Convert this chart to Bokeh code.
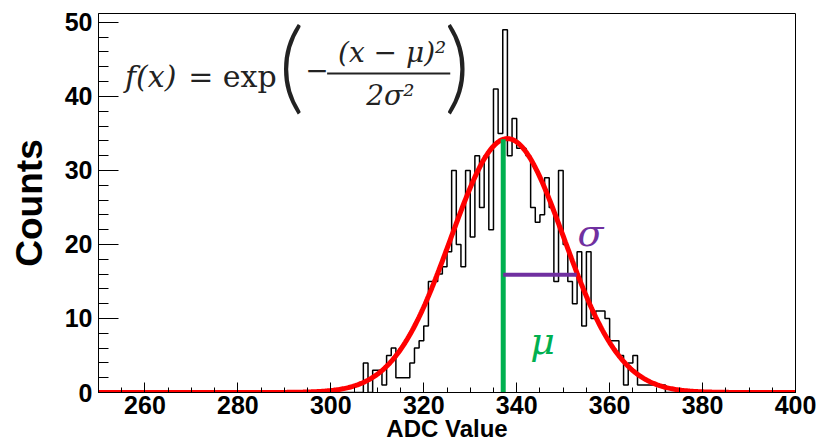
import numpy as np
from bokeh.plotting import figure
from bokeh.models import Range1d, FixedTicker, Label
from bokeh.embed import file_html
from bokeh.resources import INLINE

# ---------------- data ----------------
bin_lower_edges = list(range(305, 373))          # ADC bins of width 1
bin_counts = [0, 0, 4, 0, 3, 3, 1, 5, 6, 2,
              2, 2, 4, 6, 7, 9, 15, 15, 16, 17,
              19, 30, 20, 17, 30, 21, 32, 25, 32, 22,
              41, 35, 49, 32, 37, 33, 33, 32, 25, 23,
              24, 29, 25, 15, 30, 20, 15, 12, 19, 9,
              19, 10, 11, 11, 10, 7, 7, 5, 1, 4,
              5, 1, 1, 1, 1, 1, 1, 0]
bin_width = 1

x_major_ticks = [260, 280, 300, 320, 340, 360, 380, 400]
x_minor_ticks = list(range(250, 401, 5))
y_major_ticks = [0, 10, 20, 30, 40, 50]
y_minor_ticks = list(range(0, 52, 2))

# Gaussian fit parameters
fit_amplitude = 34.3
fit_mean = 338.0
fit_sigma = 12.2

# annotation markers
mu_value = 337.1
sigma_right = 352.9
sigma_level = 15.9

x_lo, x_hi = 250, 400
y_lo, y_hi = 0, 51.2

# ---------------- figure ----------------
p = figure(width=819, height=448,
           x_range=Range1d(x_lo, x_hi), y_range=Range1d(y_lo, y_hi),
           output_backend="svg", toolbar_location=None,
           min_border_left=98, min_border_right=24,
           min_border_top=13, min_border_bottom=56)
p.xgrid.visible = False
p.ygrid.visible = False
p.outline_line_color = "black"
p.outline_line_width = 1
p.outline_line_alpha = 1
p.background_fill_color = "white"
p.border_fill_color = "white"

tick_font = "Liberation Sans"
for ax in (p.xaxis[0], p.yaxis[0]):
    ax.axis_line_color = "black"
    ax.axis_line_width = 1
    ax.major_tick_line_color = "black"
    ax.minor_tick_line_color = "black"
    ax.major_tick_out = 0
    ax.minor_tick_out = 0
    ax.major_label_text_font = tick_font
    ax.major_label_text_font_style = "bold"
    ax.major_label_text_font_size = "25px"
    ax.major_label_text_color = "black"
    ax.axis_label_text_font = tick_font
    ax.axis_label_text_font_style = "bold"
    ax.axis_label_text_color = "black"

p.xaxis.ticker = FixedTicker(ticks=x_major_ticks, minor_ticks=x_minor_ticks)
p.xaxis.major_tick_in = 10
p.xaxis.minor_tick_in = 5
p.xaxis.major_label_standoff = 3
p.xaxis.axis_label = "ADC Value"
p.xaxis.axis_label_text_font_size = "24px"
p.xaxis.axis_label_standoff = -2

p.yaxis.ticker = FixedTicker(ticks=y_major_ticks, minor_ticks=y_minor_ticks)
p.yaxis.major_tick_in = 20
p.yaxis.minor_tick_in = 10
p.yaxis.major_label_standoff = 6
p.yaxis.axis_label = "Counts"
p.yaxis.axis_label_text_font_size = "37px"
p.yaxis.axis_label_standoff = 12

# ---------------- histogram ----------------
step_x = [x_lo] + bin_lower_edges + [bin_lower_edges[-1] + bin_width, x_hi]
step_y = [0] + bin_counts + [0, 0]
p.step(x=step_x, y=step_y, mode="after", line_color="black", line_width=1.5)

# ---------------- Gaussian fit ----------------
fx = np.linspace(x_lo, x_hi, 601)
fy = fit_amplitude * np.exp(-(fx - fit_mean) ** 2 / (2 * fit_sigma ** 2))
p.line(fx, fy, line_color="#ff0000", line_width=5)

mu_top = fit_amplitude * np.exp(-(mu_value - fit_mean) ** 2 / (2 * fit_sigma ** 2))
p.segment(x0=[mu_value], y0=[0], x1=[mu_value], y1=[mu_top],
          line_color="#00b050", line_width=5)
p.segment(x0=[mu_value], y0=[sigma_level], x1=[sigma_right], y1=[sigma_level],
          line_color="#7030a0", line_width=4)

p.add_layout(Label(x=355.9, y=21.5, text="σ", text_align="center",
                   text_baseline="middle", text_font="DejaVu Serif",
                   text_font_style="italic", text_font_size="38px",
                   text_color="#7030a0"))
p.add_layout(Label(x=345.6, y=6.9, text="μ", text_align="center",
                   text_baseline="middle", text_font="DejaVu Serif",
                   text_font_style="italic", text_font_size="38px",
                   text_color="#00b050"))

# ---------------- formula ----------------
ff = "DejaVu Serif"
fcol = "#222222"
paren_font = "Lato Light, Liberation Serif"
p.add_layout(Label(x=255.7, y=42.7, text="f(x)", text_align="left",
                   text_baseline="alphabetic", text_font=ff,
                   text_font_style="italic", text_font_size="30px", text_color=fcol))
p.add_layout(Label(x=269.3, y=42.7, text="= exp", text_align="left",
                   text_baseline="alphabetic", text_font=ff,
                   text_font_size="30px", text_color=fcol))
p.add_layout(Label(x=291.5, y=44.6, text="(", text_align="center",
                   text_baseline="middle", text_font=paren_font,
                   text_font_size="100px", text_color=fcol))
p.add_layout(Label(x=327.2, y=44.6, text=")", text_align="center",
                   text_baseline="middle", text_font=paren_font,
                   text_font_size="100px", text_color=fcol))
p.add_layout(Label(x=294.5, y=43.6, text="−", text_align="left",
                   text_baseline="middle", text_font=ff,
                   text_font_size="28px", text_color=fcol))
p.add_layout(Label(x=313.2, y=45.9, text="(x − μ)²", text_align="center",
                   text_baseline="alphabetic", text_font=ff,
                   text_font_style="italic", text_font_size="28px", text_color=fcol))
p.add_layout(Label(x=312.8, y=40.1, text="2σ²", text_align="center",
                   text_baseline="alphabetic", text_font=ff,
                   text_font_style="italic", text_font_size="28px", text_color=fcol))
p.segment(x0=[299.2], y0=[43.1], x1=[325.7], y1=[43.1],
          line_color=fcol, line_width=2)

open("out.html", "w").write(file_html(p, INLINE))
